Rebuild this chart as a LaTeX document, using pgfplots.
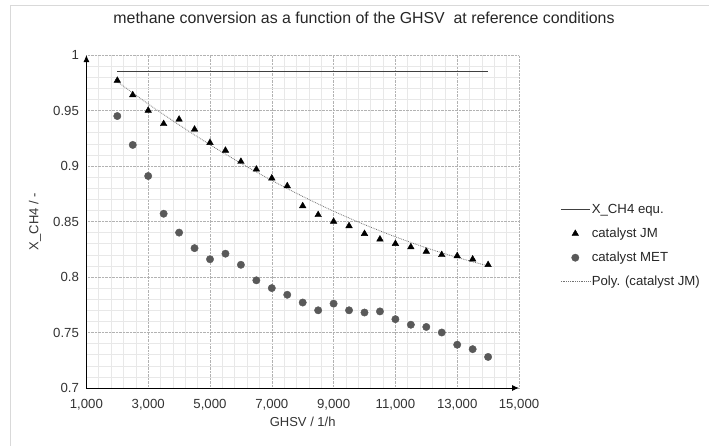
\documentclass[border=0pt]{standalone}
\usepackage{pgfplots}
\pgfplotsset{compat=1.18}
\usepackage{fontspec}
\setmainfont{Liberation Sans}
\usetikzlibrary{arrows.meta}
\definecolor{metgray}{HTML}{595959}
\definecolor{eqgray}{HTML}{404040}
\pgfplotsset{
  lineleg/.style={legend image code/.code={\draw[##1] (0pt,0pt) -- (29pt,0pt);}},
  markleg/.style={legend image code/.code={\draw[##1] plot coordinates {(14.5pt,0pt)};}},
}
\begin{document}
\begin{tikzpicture}[x=1pt,y=1pt]
\useasboundingbox (0,0) rectangle (709,445);
\draw[black!15] (10.5,-5) -- (10.5,439.5) -- (715,439.5);
\begin{axis}[
  at={(86.4pt,57pt)}, anchor=south west,
  scale only axis, width=432.6pt, height=333pt,
  xmin=1000, xmax=15000, ymin=0.7, ymax=1,
  axis lines=left,
  axis line style={black, line width=0.9pt, -{Latex[length=7pt,width=6pt]}},
  xtick={1000,3000,5000,7000,9000,11000,13000,15000},
  xticklabels={1{,}000,3{,}000,5{,}000,7{,}000,9{,}000,11{,}000,13{,}000,15{,}000},
  ytick={0.7,0.75,0.8,0.85,0.9,0.95,1},
  yticklabels={0.7,0.75,0.8,0.85,0.9,0.95,1},
  minor x tick num=4, minor y tick num=4,
  major tick length=0pt, minor tick length=0pt,
  grid=both,
  major grid style={black!30, densely dotted, line width=0.6pt},
  minor grid style={black!9, line width=0.6pt},
  scaled x ticks=false, scaled y ticks=false,
  tick label style={font=\fontsize{13.2}{15}\selectfont, text=black!80},
  xticklabel style={yshift=-8pt},
  yticklabel style={xshift=-4pt},
  xlabel={GHSV / 1/h},
  ylabel={X\_CH4 / -},
  label style={font=\fontsize{13}{15}\selectfont, text=black!80},
  xlabel style={at={(rel axis cs:0.5,-0.102)}, anchor=center},
  ylabel style={at={(rel axis cs:-0.119,0.5)}, anchor=center, rotate=0},
  title={methane conversion as a function of the GHSV\ \ at reference conditions},
  title style={at={(rel axis cs:0.6417,1.093)}, anchor=center, yshift=0pt, font=\fontsize{15.9}{18}\selectfont, text=black!85},
  legend style={draw=none, fill=none, at={(rel axis cs:1.095,0.558)}, anchor=north west,
    font=\fontsize{13.2}{15}\selectfont, text=black!85, row sep=9pt, inner sep=0pt,
    nodes={inner xsep=1.5pt}},
  legend cell align=left,
  clip=false,
]
\addplot[eqgray, line width=1pt, mark=none, lineleg]
  coordinates {(2000,0.985) (14000,0.985)};
\addlegendentry{X\_CH4 equ.}
\addplot[only marks, mark=triangle*, mark size=3.8pt, black, mark options={fill=black}, markleg]
  coordinates {
  (2000,0.977) (2500,0.964) (3000,0.950) (3500,0.938) (4000,0.942)
  (4500,0.933) (5000,0.921) (5500,0.914) (6000,0.904) (6500,0.897)
  (7000,0.889) (7500,0.882) (8000,0.864) (8500,0.856) (9000,0.850)
  (9500,0.846) (10000,0.839) (10500,0.834) (11000,0.830) (11500,0.827)
  (12000,0.823) (12500,0.820) (13000,0.819) (13500,0.816) (14000,0.811)};
\addlegendentry{catalyst JM}
\addplot[only marks, mark=*, mark size=3.7pt, metgray, mark options={fill=metgray, draw=metgray}, markleg]
  coordinates {
  (2000,0.945) (2500,0.919) (3000,0.891) (3500,0.857) (4000,0.840)
  (4500,0.826) (5000,0.816) (5500,0.821) (6000,0.811) (6500,0.797)
  (7000,0.790) (7500,0.784) (8000,0.777) (8500,0.770) (9000,0.776)
  (9500,0.770) (10000,0.768) (10500,0.769) (11000,0.762) (11500,0.757)
  (12000,0.755) (12500,0.750) (13000,0.739) (13500,0.735) (14000,0.728)};
\addlegendentry{catalyst MET}
\addplot[black!55, densely dotted, line width=0.8pt, smooth, mark=none, lineleg]
  coordinates {
  (2000,0.9760) (3000,0.9559) (4000,0.9370) (5000,0.9192) (6000,0.9025)
  (7000,0.8870) (8000,0.8726) (9000,0.8593) (10000,0.8472) (11000,0.8362)
  (12000,0.8263) (13000,0.8176) (14000,0.8100)};
\addlegendentry{Poly. (catalyst JM)}
\end{axis}
\end{tikzpicture}
\end{document}
